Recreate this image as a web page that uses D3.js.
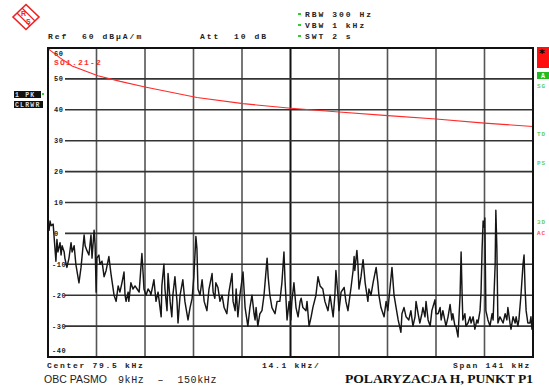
<!DOCTYPE html>
<html>
<head>
<meta charset="utf-8">
<script src="https://cdn.jsdelivr.net/npm/d3@7"></script>
<style>
  html, body { margin: 0; padding: 0; background: #fff; }
  svg { display: block; }
  .mono { font-family: "Liberation Mono", "DejaVu Sans Mono", monospace; font-weight: bold; }
</style>
</head>
<body>
<svg id="chart" width="549" height="387"></svg>
<script>
// Frequency axis (kHz) and level axis (dBµA/m)
const freqStartKHz = 9;
const freqStopKHz = 150;
const freqDivisions = 10;
const levelTicks = [60, 50, 40, 30, 20, 10, 0, -10, -20, -30, -40];

// Setting readouts
const headerLeft = ["Ref  60 dBµA/m", "Att  10 dB"];
const headerRight = ["RBW 300 Hz", "VBW 1 kHz", "SWT 2 s"];
const footerLabels = ["Center 79.5 kHz", "14.1 kHz/", "Span 141 kHz"];
const traceTags = ["1 PK", "CLRWR"];
const limitName = "SO1.21-2";

// Limit line: [frequency kHz, level dBµA/m]
const limitLine = [
  [9.0, 59.8], [12.5, 56.8], [16.0, 54.2], [23.5, 51.0], [30.0, 49.2], [37.2, 47.4],
  [52.3, 44.0], [65.7, 42.0], [79.6, 40.5], [93.6, 39.3], [107.8, 38.1],
  [121.8, 37.0], [135.9, 35.7], [150.0, 34.6]
];

// Peak trace, clear/write: [frequency kHz, level dBµA/m]
const sweep = [
  [9.0,3.5],[9.3,1],[9.6,4],[9.9,2.5],[10.5,3],[10.7,0],[11.3,-9],[11.6,-2],[11.9,-6],
  [12.5,-3],[12.8,-7],[13.1,-4],[13.7,-6],[13.9,-8],[14.5,-11],[15.1,-8],[15.7,-3],
  [16.0,-6],[16.6,-4],[17.1,-10],[18.0,-16],[18.6,-11],[19.5,-0.5],[19.8,-4],[20.3,-5.5],
  [20.9,-7],[21.5,-0.5],[21.8,-8],[22.4,1],[22.7,-4],[23.0,-19],[23.2,-8],[23.8,-7],
  [24.1,-10],[24.7,-9],[25.3,-14],[25.9,-12],[26.7,-7.5],[27.3,-13],[28.2,-20],[28.8,-22],
  [29.4,-17],[29.9,-19],[30.5,-16],[31.1,-12.5],[31.4,-20],[31.7,-22],[32.3,-19],[32.5,-22],
  [33.1,-16],[33.7,-18],[34.3,-17],[34.9,-18],[35.5,-19],[36.3,-6.5],[36.6,-12],[36.9,-18],
  [37.5,-20],[38.1,-18],[38.7,-19],[38.9,-20],[39.8,-15],[40.4,-22],[41.0,-19],[41.9,-27],
  [42.1,-17],[42.7,-10],[43.0,-18],[43.6,-25],[43.9,-13],[44.5,-22],[45.0,-27],[45.3,-20],
  [45.9,-14],[46.5,-22],[46.8,-29],[47.4,-20],[48.2,-15],[48.8,-22],[49.7,-28],[50.3,-24],
  [50.9,-21],[51.4,-14],[52.0,-1],[52.3,-5],[52.6,-18],[53.2,-20],[53.8,-15],[54.4,-22],
  [55.2,-25],[55.8,-18],[56.7,-13],[57.0,-19],[57.5,-21],[57.8,-16],[58.4,-17.5],[59.0,-22],
  [59.6,-20],[60.2,-24],[61.0,-26],[61.6,-19],[62.5,-13],[62.8,-22],[63.4,-25],[63.7,-18],
  [64.2,-27],[64.8,-20],[65.7,-12.5],[66.3,-24],[67.1,-30],[67.7,-24],[68.3,-20],[68.9,-26],
  [69.2,-28],[69.5,-24],[70.0,-30],[70.6,-26],[71.2,-25],[71.8,-20],[72.7,-8],[73.0,-14],
  [73.5,-20],[74.1,-24],[75.0,-26],[75.6,-22],[76.4,-22],[77.0,-16],[77.6,-6],[77.9,-15],
  [78.5,-28],[79.1,-22],[79.6,-28],[79.9,-22],[80.5,-16],[81.1,-24],[81.7,-27],[82.3,-22],
  [82.6,-21],[83.1,-24],[84.0,-25],[84.3,-22],[84.9,-30],[85.5,-27],[86.0,-24],[86.9,-20],
  [87.5,-14],[88.1,-17],[88.9,-18],[89.5,-22],[90.4,-25],[91.0,-20],[91.9,-27],[92.4,-20],
  [92.7,-12],[93.3,-20],[93.6,-25],[94.2,-19],[95.1,-17.5],[95.6,-22],[96.2,-25],[96.8,-20],
  [97.1,-17.5],[97.7,-12],[98.0,-7.5],[98.2,-12],[98.8,-5.5],[99.1,-10],[99.4,-18],[100.0,-14],
  [100.6,-8.5],[101.2,-16],[102.0,-22],[102.3,-18],[102.9,-20],[103.5,-16],[104.4,-11],
  [104.9,-16],[105.2,-20],[105.8,-24],[106.7,-27],[107.3,-22],[107.8,-25],[108.4,-18],
  [109.0,-11],[109.6,-20],[110.2,-24],[110.8,-28],[111.6,-32],[111.9,-26],[112.5,-24],
  [113.1,-27],[113.9,-28],[114.5,-25],[115.1,-30],[115.7,-27],[116.0,-22],[116.6,-26],
  [117.1,-29],[117.7,-26],[118.0,-24],[118.6,-27],[118.9,-22],[119.5,-28],[120.1,-30],
  [120.6,-25],[121.5,-21.5],[121.8,-26],[122.4,-26],[123.0,-24],[123.3,-28],[123.8,-25],
  [124.7,-30],[125.3,-27],[125.9,-23],[126.4,-28],[126.7,-26],[127.3,-30],[127.6,-30],
  [128.2,-33.5],[128.8,-20],[129.1,-6],[129.4,-20],[129.6,-28],[130.2,-26],[130.5,-30],
  [131.1,-29],[131.7,-27],[132.0,-29],[132.6,-27],[133.1,-31],[133.7,-28],[134.0,-29],
  [134.6,-25],[134.9,-19],[135.2,-5],[135.5,4],[135.8,2],[136.0,5],[136.3,-25],[136.9,-28],
  [137.5,-30],[138.1,-26],[138.4,-28],[139.0,-10],[139.2,7.5],[139.5,-5],[139.8,-29],
  [140.4,-27],[141.3,-29],[141.9,-26],[142.4,-28],[142.7,-24],[143.3,-29],[143.6,-31],
  [144.2,-27],[144.8,-29],[145.1,-27],[145.6,-30],[145.9,-28],[146.5,-20],[147.1,-10],
  [147.4,-7],[147.7,-18],[148.0,-25],[148.5,-29],[149.1,-29],[149.4,-27],[149.7,-31],[150.0,-28]
];

const svg = d3.select("#chart");
const plot = { left: 48, right: 533, top: 48, bottom: 357 };

const x = d3.scaleLinear().domain([freqStartKHz, freqStopKHz]).range([plot.left, plot.right]);
const y = d3.scaleLinear().domain([-40, 60]).range([plot.bottom, plot.top]);

const freqGrid = d3.range(freqDivisions + 1).map(i => freqStartKHz + i * (freqStopKHz - freqStartKHz) / freqDivisions);

// Grid
const grid = svg.append("g");
grid.selectAll("line.v").data(freqGrid.slice(1, -1)).join("line")
  .attr("x1", d => x(d)).attr("x2", d => x(d))
  .attr("y1", plot.top).attr("y2", plot.bottom)
  .attr("stroke", (d, i) => i === 4 ? "#111" : "#555")
  .attr("stroke-width", (d, i) => i === 4 ? 2 : 1.6);
grid.selectAll("line.h").data(levelTicks.slice(1, -1)).join("line")
  .attr("x1", plot.left).attr("x2", plot.right)
  .attr("y1", d => y(d)).attr("y2", d => y(d))
  .attr("stroke", "#333").attr("stroke-width", 1.6);

// Level labels sitting on the grid lines
const lab = svg.append("g").attr("class", "mono").attr("font-size", 7);
levelTicks.forEach(v => {
  let yy = y(v);
  if (v === 60) yy = y(v) + 5;
  else if (v === -40) yy = y(v) - 7;
  if (v !== 60 && v !== -40) {
    lab.append("rect").attr("x", plot.left + 1).attr("y", yy - 3).attr("width", 16).attr("height", 6).attr("fill", "#fff");
  }
  lab.append("text").attr("x", plot.left + (v < 0 ? 4 : 6)).attr("y", yy + 2.5)
    .attr("fill", "#222").attr("letter-spacing", 0.6).text(v);
});

// Limit line
const line = d3.line().x(d => x(d[0])).y(d => y(d[1]));
svg.append("path").datum(limitLine).attr("d", line)
  .attr("fill", "none").attr("stroke", "#ff2a2a").attr("stroke-width", 1.1);
svg.append("text").attr("class", "mono").attr("x", 54).attr("y", 65)
  .attr("font-size", 8).attr("fill", "#ff3030").attr("letter-spacing", 1.2).text(limitName);

// Trace
svg.append("path").datum(sweep).attr("d", line)
  .attr("fill", "none").attr("stroke", "#161616").attr("stroke-width", 1.45)
  .attr("stroke-linejoin", "round");

// Frame
svg.append("rect").attr("x", plot.left).attr("y", plot.top)
  .attr("width", plot.right - plot.left).attr("height", plot.bottom - plot.top)
  .attr("fill", "none").attr("stroke", "#111").attr("stroke-width", 2);

// Header readouts
const hdr = svg.append("g").attr("class", "mono").attr("font-size", 8).attr("fill", "#222").attr("letter-spacing", 2);
hdr.append("text").attr("x", 48).attr("y", 39).attr("xml:space", "preserve").text(headerLeft[0]);
hdr.append("text").attr("x", 200).attr("y", 39).attr("xml:space", "preserve").text(headerLeft[1]);
headerRight.forEach((t, i) => {
  hdr.append("text").attr("x", 305).attr("y", 17 + i * 11).text(t);
  svg.append("rect").attr("x", 298).attr("y", 13 + i * 11).attr("width", 3).attr("height", 2).attr("fill", "#3c3");
});

// Footer readouts
const ftr = svg.append("g").attr("class", "mono").attr("font-size", 8).attr("fill", "#222").attr("letter-spacing", 1.7);
ftr.append("text").attr("x", 47).attr("y", 368).text(footerLabels[0]);
ftr.append("text").attr("x", 262).attr("y", 368).text(footerLabels[1]);
ftr.append("text").attr("x", 531).attr("y", 368).attr("text-anchor", "end").text(footerLabels[2]);

// Trace tags on the left
traceTags.forEach((t, i) => {
  const yy = 91 + i * 10;
  svg.append("rect").attr("x", 14).attr("y", yy).attr("width", i === 0 ? 27 : 29).attr("height", 7).attr("fill", "#111");
  svg.append("text").attr("class", "mono").attr("x", 15).attr("y", yy + 6)
    .attr("font-size", 6.5).attr("fill", "#ddd").attr("letter-spacing", 1.2).attr("xml:space", "preserve").text(t);
});
svg.append("rect").attr("x", 42).attr("y", 93).attr("width", 2).attr("height", 2).attr("fill", "#3c3");

// Status column on the right
svg.append("rect").attr("x", 537).attr("y", 47).attr("width", 12).attr("height", 21).attr("fill", "#ff1010");
svg.append("text").attr("x", 539).attr("y", 57).attr("font-size", 11).attr("font-family", "DejaVu Sans")
  .attr("font-weight", "bold").attr("fill", "#000").text("*");
svg.append("rect").attr("x", 537).attr("y", 72).attr("width", 12).attr("height", 7).attr("fill", "#22bb22");
svg.append("text").attr("class", "mono").attr("x", 541).attr("y", 78).attr("font-size", 6.5).attr("fill", "#fff").text("A");
[["SG", 88, "#6c6"], ["TD", 136, "#6c6"], ["PS", 165, "#6c6"], ["3D", 224, "#6c6"], ["AC", 235, "#f55"]]
  .forEach(([t, yy, c]) => {
    svg.append("text").attr("class", "mono").attr("x", 537).attr("y", yy)
      .attr("font-size", 6).attr("fill", c).attr("letter-spacing", 0.8).text(t);
  });

// Maker badge
const logo = svg.append("g").attr("transform", "translate(26,17)");
logo.append("path").attr("d", "M0,-12.5 L13,0 L0,12.5 L-13,0 Z")
  .attr("fill", "none").attr("stroke", "#e22").attr("stroke-width", 1.6);
logo.append("path").attr("d", "M-9,-4 L4,9 M-4,-9 L9,4")
  .attr("stroke", "#e22").attr("stroke-width", 1.2);
logo.append("text").attr("x", -5).attr("y", -1).attr("font-size", 7).attr("font-family", "Liberation Sans")
  .attr("font-weight", "bold").attr("fill", "#e22").text("R");
logo.append("text").attr("x", 0).attr("y", 7).attr("font-size", 7).attr("font-family", "Liberation Sans")
  .attr("font-weight", "bold").attr("fill", "#e22").text("S");

// Captions
svg.append("text").attr("x", 44).attr("y", 383).attr("font-size", 10.5)
  .attr("font-family", "Liberation Sans").attr("fill", "#222").text("OBC PASMO");
svg.append("text").attr("x", 118).attr("y", 383).attr("font-size", 10)
  .attr("font-family", "Liberation Mono").attr("fill", "#222").attr("letter-spacing", 0.6)
  .attr("xml:space", "preserve").text("9kHz  –  150kHz");
svg.append("text").attr("x", 345).attr("y", 383).attr("font-size", 12)
  .attr("font-family", "Liberation Serif").attr("font-weight", "bold").attr("fill", "#111")
  .attr("textLength", 188).attr("lengthAdjust", "spacingAndGlyphs")
  .text("POLARYZACJA H, PUNKT P1");
</script>
</body>
</html>
